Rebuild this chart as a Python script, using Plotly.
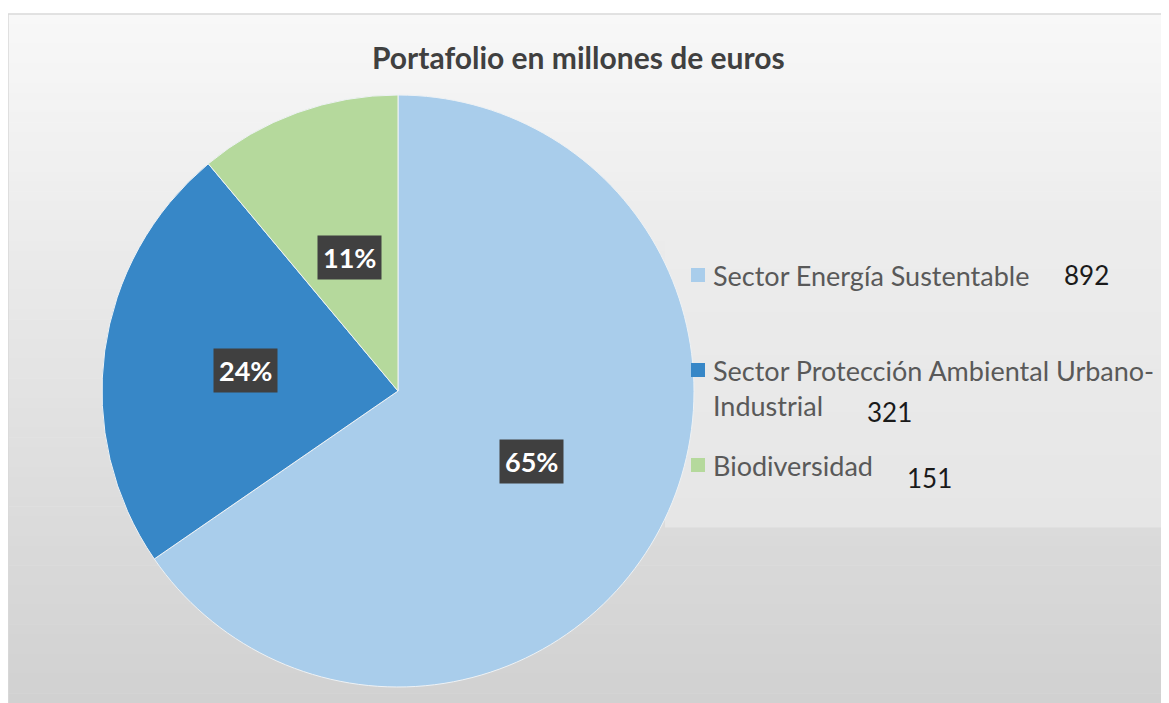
import math
import plotly.graph_objects as go

# ---- data ----
labels = ["Sector Energía Sustentable",
          "Sector Protección Ambiental Urbano-Industrial",
          "Biodiversidad"]
legend_labels = ["Sector Energía Sustentable",
                 "Sector Protección Ambiental Urbano-<br>Industrial",
                 "Biodiversidad"]
values = [892, 321, 151]
title_text = "Portafolio en millones de euros"

# ---- style ----
colors = ["#a9cdeb", "#3787c7", "#b5d99c"]
label_radius = [0.51, 0.52, 0.48]
W, H = 1169, 703
OX, OY = 8, 8  # page offset of the plot div
FW, FH = W - OX, H - OY


def px(x):
    return (x - OX) / FW


def py(y):
    return 1 - (y - OY) / FH


cx, cy, R = 398, 391, 296

fig = go.Figure(go.Pie(
    labels=labels, values=values, sort=False, direction="clockwise", rotation=0,
    marker=dict(colors=colors, line=dict(color="#eef2f5", width=1)),
    textinfo="none", hoverinfo="label+value+percent", showlegend=False,
    domain=dict(x=[px(cx - R), px(cx + R)], y=[py(cy + R), py(cy - R)]),
))

shapes = []
# background gradient (chart area)
x0, y0 = 8, 14
n = 70
top = (248, 248, 248)
bot = (209, 209, 209)
for i in range(n):
    t = i / (n - 1)
    c = tuple(int(round(top[k] + (bot[k] - top[k]) * t)) for k in range(3))
    ya = y0 + (H - y0) * i / n
    yb = y0 + (H - y0) * (i + 1) / n + 0.6
    shapes.append(dict(type="rect", xref="paper", yref="paper", layer="below",
                       x0=px(x0), x1=1.0, y0=py(ya), y1=py(yb),
                       fillcolor="rgb(%d,%d,%d)" % c, line=dict(width=0)))
# legend area box
lb_top, lb_bot = 240, 527
m = 20
for i in range(m):
    t = i / (m - 1)
    v = int(round(236 - 6 * t))
    ya = lb_top + (lb_bot - lb_top) * i / m
    yb = lb_top + (lb_bot - lb_top) * (i + 1) / m + 0.6
    shapes.append(dict(type="rect", xref="paper", yref="paper", layer="below",
                       x0=px(665), x1=1.0, y0=py(ya), y1=py(yb),
                       fillcolor="rgb(%d,%d,%d)" % (v, v, v), line=dict(width=0)))
# chart border
shapes.append(dict(type="rect", xref="paper", yref="paper", layer="below",
                   x0=px(x0), x1=1.2, y0=-0.2, y1=py(y0),
                   fillcolor="rgba(0,0,0,0)", line=dict(color="#d9d9d9", width=1.5)))

annotations = []
# title
annotations.append(dict(text="<b>" + title_text + "</b>", x=px(578), y=py(57),
                        xref="paper", yref="paper", xanchor="center", yanchor="middle",
                        showarrow=False, font=dict(family="Lato", size=30, color="#404040")))

# percentage labels
total = sum(values)
cum = 0
for v, rf in zip(values, label_radius):
    mid = (cum + v / 2) / total
    cum += v
    ang = 2 * math.pi * mid
    lx = cx + rf * R * math.sin(ang)
    ly = cy - rf * R * math.cos(ang)
    annotations.append(dict(text="<b>%d%%</b>" % round(100 * v / total),
                            x=px(lx), y=py(ly), xref="paper", yref="paper",
                            xanchor="center", yanchor="middle", showarrow=False,
                            bgcolor="#404040", borderpad=5,
                            font=dict(family="Lato", size=27, color="white")))

# custom legend
leg_y = [275, 370, 465]
val_pos = [(1062, 275), (865, 412), (905, 478)]
for lab, v, col, yy, (vx, vy) in zip(legend_labels, values, colors, leg_y, val_pos):
    shapes.append(dict(type="rect", xref="paper", yref="paper",
                       x0=px(691), x1=px(705), y0=py(yy - 7), y1=py(yy + 7),
                       fillcolor=col, line=dict(width=0)))
    annotations.append(dict(text=lab, x=px(711), y=py(yy - 18), xref="paper", yref="paper",
                            xanchor="left", yanchor="top", align="left", showarrow=False,
                            font=dict(family="Lato", size=27, color="#595959")))
    annotations.append(dict(text=str(v), x=px(vx), y=py(vy), xref="paper", yref="paper",
                            xanchor="left", yanchor="middle", showarrow=False,
                            font=dict(family="Lato", size=26, color="#1a1a1a")))

fig.update_layout(width=FW, height=FH, margin=dict(l=0, r=0, t=0, b=0),
                  paper_bgcolor="white", plot_bgcolor="white",
                  shapes=shapes, annotations=annotations)

fig.write_html("out.html")
